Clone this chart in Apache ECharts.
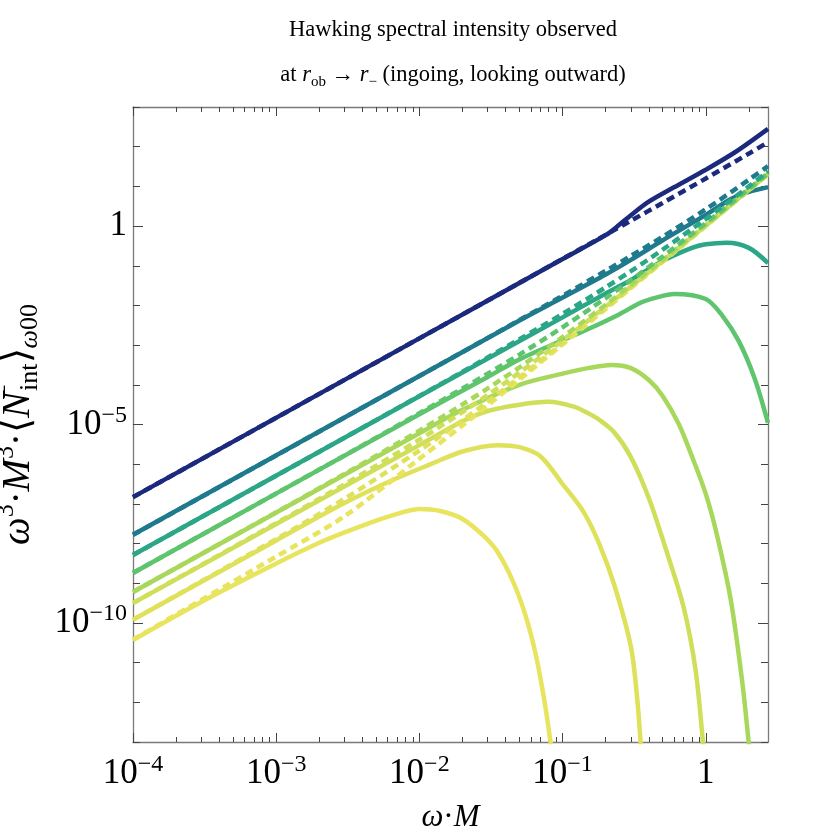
<!DOCTYPE html>
<html><head><meta charset="utf-8">
<script src="https://cdn.jsdelivr.net/npm/echarts@6/dist/echarts.min.js"></script>
<style>html,body{margin:0;padding:0;background:#fff}#c{width:830px;height:840px}</style>
</head><body><div id="c"></div>
<script>
// ---------- values ----------
// common x grid for the dashed (approximation) curves
const dashX  = [1e-4, 1e-3, 3e-3, 0.01, 0.02, 0.03, 0.05, 0.1, 0.2, 0.3, 0.5, 1, 2, 2.72];
const dash1Y = [1.48e-7, 1.48e-5, 1.33e-4, 1.48e-3, 5.92e-3, 1.33e-2, 3.71e-2, 0.149, 0.600, 1.36, 3.83, 15.8, 67.1, 130];
const dash2Y = [1.66e-8, 1.66e-6, 1.50e-5, 1.67e-4, 6.71e-4, 1.52e-3, 4.28e-3, 1.76e-2, 7.45e-2, 0.177, 0.540, 2.65, 14.7, 32.4];
const dash3Y = [5.13e-9, 5.14e-7, 4.65e-6, 5.22e-5, 2.13e-4, 4.89e-4, 1.41e-3, 6.14e-3, 2.86e-2, 7.29e-2, 0.255, 1.51, 10.0, 24.0];
const dash4Y = [1.82e-9, 1.83e-7, 1.66e-6, 1.92e-5, 8.09e-5, 1.91e-4, 5.79e-4, 2.82e-3, 1.53e-2, 4.33e-2, 0.171, 1.19, 8.73, 21.6];
const dash5Y = [6.04e-10, 6.12e-8, 5.69e-7, 7.03e-6, 3.21e-5, 8.11e-5, 2.76e-4, 1.60e-3, 1.04e-2, 3.24e-2, 0.140, 1.06, 8.24, 20.7];
const dash6Y = [3.17e-10, 3.26e-8, 3.11e-7, 4.16e-6, 2.06e-5, 5.55e-5, 2.04e-4, 1.32e-3, 9.27e-3, 2.99e-2, 0.133, 1.03, 8.13, 20.4];
const dash7Y = [1.21e-10, 1.30e-8, 1.35e-7, 2.21e-6, 1.28e-5, 3.78e-5, 1.55e-4, 1.12e-3, 8.49e-3, 2.81e-2, 0.128, 1.01, 8.05, 20.3];
const dash8Y = [3.82e-11, 4.71e-9, 4.88e-8, 1.37e-6, 9.48e-6, 3.03e-5, 1.35e-4, 1.04e-3, 8.15e-3, 2.73e-2, 0.126, 1.00, 8.02, 20.2];

// solid (exact) curves
const s1X = [1e-4, 0.01, 0.1, 0.2, 0.25, 0.3, 0.4, 0.6, 1, 1.6, 2.72];
const s1Y = [1.48e-7, 1.48e-3, 0.148, 0.59, 1.09, 1.88, 4.11, 9.46, 26.3, 72.4, 282];
const s2X = [1e-4, 0.01, 0.05, 0.1, 0.2, 0.3, 0.5, 1, 1.5, 2, 2.72];
const s2Y = [1.66e-8, 1.66e-4, 4.17e-3, 1.58e-2, 6.03e-2, 0.141, 0.437, 1.91, 4.79, 7.24, 9.55];
const s3X = [1e-4, 0.01, 0.1, 0.2, 0.3, 0.5, 0.8, 1, 1.4, 2, 2.72];
const s3Y = [5.13e-9, 5.13e-5, 5.01e-3, 2.0e-2, 4.37e-2, 0.132, 0.282, 0.347, 0.38, 0.282, 0.117];
const s4X = [1e-4, 0.01, 0.03, 0.05, 0.1, 0.15, 0.25, 0.35, 0.45, 0.6, 1.0, 1.3, 1.7, 2.2, 2.72];
const s4Y = [1.82e-9, 1.82e-5, 1.58e-4, 4.37e-4, 1.32e-3, 2.51e-3, 6.03e-3, 1.17e-2, 1.58e-2, 1.95e-2, 1.45e-2, 5.62e-3, 1.26e-3, 1.41e-4, 1.10e-5];
const s5X = [1e-4, 0.01, 0.02, 0.05, 0.1, 0.15, 0.22, 0.3, 0.4, 0.5, 0.65, 0.8, 1.0, 1.2, 1.5, 1.8, 2.0, 2.1];
const s5Y = [6.03e-10, 6.03e-6, 2.34e-5, 1e-4, 1.91e-4, 2.63e-4, 3.16e-4, 2.63e-4, 1.32e-4, 5.25e-5, 1e-5, 1.58e-6, 1.78e-7, 1.58e-8, 3.55e-10, 3.16e-12, 8.9e-14, 1.58e-14];
const s6X = [1e-4, 0.01, 0.02, 0.03, 0.05, 0.08, 0.12, 0.15, 0.18, 0.23, 0.3, 0.4, 0.52, 0.7, 0.85, 0.95, 1.0];
const s6Y = [3.16e-10, 3.02e-6, 1.20e-5, 2.19e-5, 3.16e-5, 3.72e-5, 2.82e-5, 1.95e-5, 1.32e-5, 6.31e-6, 1.51e-6, 1.41e-7, 8.32e-9, 2.51e-10, 6.31e-12, 1.26e-13, 1.58e-14];
const s7X = [1e-4, 1e-3, 3e-3, 0.007, 0.012, 0.02, 0.035, 0.05, 0.07, 0.1, 0.14, 0.18, 0.23, 0.3, 0.33, 0.35, 0.36];
const s7Y = [1.20e-10, 1.20e-8, 1.05e-7, 4.47e-7, 1e-6, 2.09e-6, 3.02e-6, 2.69e-6, 1.58e-6, 3.16e-7, 6.31e-8, 1e-8, 8.91e-10, 2.51e-11, 1.58e-12, 1.12e-13, 2.51e-14];
const s8X = [1e-4, 3e-4, 1e-3, 2e-3, 3e-3, 5e-3, 7e-3, 0.01, 0.014, 0.02, 0.028, 0.035, 0.045, 0.055, 0.065, 0.075, 0.082, 0.088];
const s8Y = [3.72e-11, 3.39e-10, 3.16e-9, 1.05e-8, 1.91e-8, 3.80e-8, 5.62e-8, 7.41e-8, 6.61e-8, 4.17e-8, 1.58e-8, 6.31e-9, 1.12e-9, 1.58e-10, 1.58e-11, 1e-12, 1.12e-13, 2e-14];

const colors = ['#1b2a7c', '#1e7a8c', '#2ba686', '#5ec46e', '#a8d85b', '#d0df5a', '#dfe15a', '#e8e45e'];

// ticks / labels
const xMajor = [1e-4, 1e-3, 1e-2, 1e-1, 1];
const yMajor = [1e-10, 1e-5, 1];
const xMinor = [];
[1e-4, 1e-3, 1e-2, 1e-1, 1].forEach(d => { for (let k = 2; k <= 9; k++) { const v = +(k * d).toPrecision(3); if (v <= 2.72) xMinor.push(v); } });
const yMinor = [];
for (let e = -13; e <= 3; e++) { if (e !== -10 && e !== -5 && e !== 0) yMinor.push(Math.pow(10, e)); }

// ---------- chart ----------
const FONT = 'Liberation Serif';
const pairs = (xs, ys) => xs.map((x, i) => [x, ys[i]]);
const solids = [[s1X, s1Y], [s2X, s2Y], [s3X, s3Y], [s4X, s4Y], [s5X, s5Y], [s6X, s6Y], [s7X, s7Y], [s8X, s8Y]];
const dashes = [dash1Y, dash2Y, dash3Y, dash4Y, dash5Y, dash6Y, dash7Y, dash8Y];

const series = [];
solids.forEach((s, i) => series.push({
  type: 'line', xAxisIndex: 0, yAxisIndex: 0, data: pairs(s[0], s[1]),
  showSymbol: false, smooth: 0.3, clip: true, z: 2 + (7 - i),
  lineStyle: { color: colors[i], width: 4.5 }, itemStyle: { color: colors[i] }
}));
dashes.forEach((d, i) => series.push({
  type: 'line', xAxisIndex: 0, yAxisIndex: 0, data: pairs(dashX, d),
  showSymbol: false, smooth: 0.3, clip: true, z: 12 + (7 - i),
  lineStyle: { color: colors[i], width: 4.5, type: [8, 5] }, itemStyle: { color: colors[i] }
}));

function fmt(v) {
  const e = Math.round(Math.log10(v));
  if (e === 0) return '{b|1}';
  return '{b|10}{s|' + (e < 0 ? '\u2212' : '') + Math.abs(e) + '}';
}
const labelRich = {
  b: { fontFamily: FONT, fontSize: 35, color: '#000', lineHeight: 42 },
  s: { fontFamily: FONT, fontSize: 24, color: '#000', lineHeight: 18, verticalAlign: 'top' }
};
const lineC = '#7a7a7a', tickC = '#444';
function xAx(pos, major, showLine) {
  return {
    type: 'log', logBase: 10, min: 1e-4, max: 2.72, position: pos,
    axisLine: { show: showLine, lineStyle: { color: lineC, width: 1.3 } },
    axisTick: { show: true, inside: true, length: major ? 9 : 5, customValues: major ? xMajor : xMinor, lineStyle: { color: tickC, width: 1 } },
    axisLabel: (major && pos === 'bottom') ? { show: true, customValues: xMajor, formatter: fmt, rich: labelRich, margin: 11 } : { show: false },
    splitLine: { show: false }, minorTick: { show: false }
  };
}
function yAx(pos, major, showLine) {
  return {
    type: 'log', logBase: 10, min: 1e-13, max: 1e3, position: pos,
    axisLine: { show: showLine, lineStyle: { color: lineC, width: 1.3 } },
    axisTick: { show: true, inside: true, length: major ? 10 : 7, customValues: major ? yMajor : yMinor, lineStyle: { color: tickC, width: 1 } },
    axisLabel: (major && pos === 'left') ? { show: true, customValues: yMajor, formatter: fmt, rich: labelRich, margin: 6 } : { show: false },
    splitLine: { show: false }, minorTick: { show: false }
  };
}
const xA = [xAx('bottom', true, true), xAx('bottom', false, false), xAx('top', true, true), xAx('top', false, false)];
xA[0].name = '{i|\u03c9}{n|\u00b7}{i|M}';
xA[0].nameLocation = 'middle';
xA[0].nameGap = 60;
xA[0].nameTextStyle = { rich: {
  i: { fontFamily: FONT, fontSize: 31, fontStyle: 'italic', color: '#000' },
  n: { fontFamily: FONT, fontSize: 31, color: '#000' } } };
const yA = [yAx('left', true, true), yAx('left', false, false), yAx('right', true, true), yAx('right', false, false)];
yA[0].name = '{i|\u03c9}{p|3}{n|\u00b7}{i|M}{p|3}{n|\u00b7\u27e8}{i|N}{p0|\u2212}{d|int}{n|\u27e9}{di|\u03c9}{d|00}';
yA[0].nameLocation = 'middle';
yA[0].nameRotate = 90;
yA[0].nameGap = 80;
yA[0].nameTextStyle = { rich: {
  i: { fontFamily: FONT, fontSize: 39, fontStyle: 'italic', color: '#000', lineHeight: 50 },
  n: { fontFamily: FONT, fontSize: 39, color: '#000', lineHeight: 50 },
  p: { fontFamily: FONT, fontSize: 26, color: '#000', lineHeight: 24, verticalAlign: 'top' },
  p0: { fontFamily: FONT, fontSize: 26, color: '#000', lineHeight: 24, verticalAlign: 'top', width: 1, align: 'left' },
  d: { fontFamily: FONT, fontSize: 26, color: '#000', lineHeight: 35, verticalAlign: 'bottom' },
  di: { fontFamily: FONT, fontSize: 26, fontStyle: 'italic', color: '#000', lineHeight: 35, verticalAlign: 'bottom' } } };

const option = {
  animation: false,
  backgroundColor: '#fff',
  textStyle: { fontFamily: FONT },
  title: [
    { text: 'Hawking spectral intensity observed', left: 448, top: 14, textAlign: 'center',
      textStyle: { fontFamily: FONT, fontSize: 22.5, fontWeight: 'normal', color: '#000' } },
    { text: '{n|at }{i|r}{s|ob}{n| \u2192 }{i|r}{s|\u2212}{n| (ingoing, looking outward)}', left: 448, top: 55, textAlign: 'center',
      textStyle: { fontFamily: FONT, fontSize: 22.5, fontWeight: 'normal', color: '#000', rich: {
        n: { fontFamily: FONT, fontSize: 22.5, color: '#000', lineHeight: 30 },
        i: { fontFamily: FONT, fontSize: 22.5, fontStyle: 'italic', color: '#000', lineHeight: 30 },
        s: { fontFamily: FONT, fontSize: 15, color: '#000', lineHeight: 22, verticalAlign: 'bottom' } } } }
  ],
  grid: { left: 133, right: 62, top: 107, bottom: 98, containLabel: false, outerBoundsMode: 'none' },
  xAxis: xA,
  yAxis: yA,
  series: series
};
const chart = echarts.init(document.getElementById('c'), null, { renderer: 'canvas' });
chart.setOption(option);
</script></body></html>
